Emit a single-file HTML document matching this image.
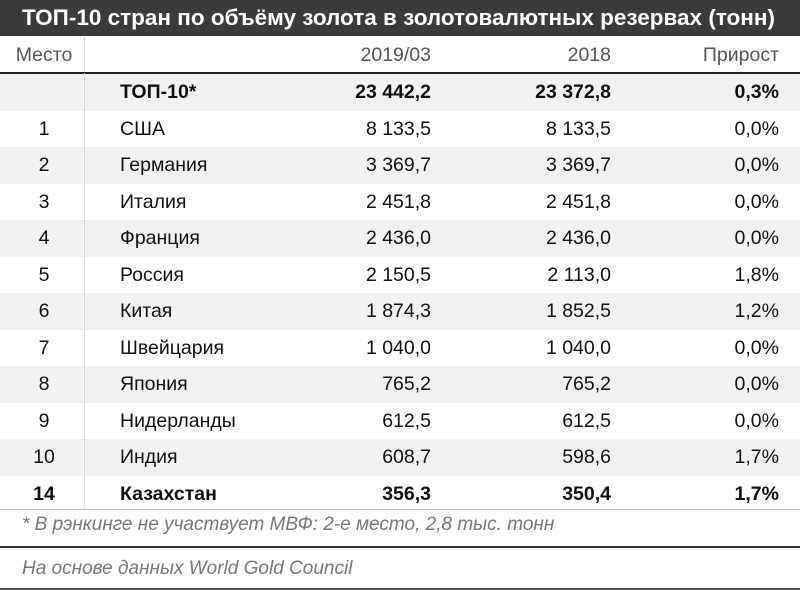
<!DOCTYPE html>
<html><head><meta charset="utf-8"><style>
body{margin:0;width:800px;height:590px;background:#fff;font-family:"Liberation Sans","DejaVu Sans",sans-serif;position:relative;overflow:hidden}
.title{position:absolute;left:0;top:0;width:800px;height:36px;background:#3b3b3b;color:#fff;font-weight:bold;font-size:22.5px;line-height:36px;padding-left:22px;box-sizing:border-box;white-space:nowrap}
.row{position:absolute;left:0;width:800px;height:36.5px;font-size:19.5px;color:#111}
.row div{position:absolute;top:0;line-height:36.5px;white-space:nowrap}
.c1{left:0;width:88px;text-align:center}
.c2{left:120px}
.c3{right:369px}
.c4{right:189px}
.c5{right:21px}
.g{background:#f1f1f1}
.b{font-weight:bold}
.hdr{color:#555}
.vline{position:absolute;left:84px;top:38px;height:470px;border-left:1px dotted #bbb}
.it{position:absolute;left:22px;font-style:italic;color:#777;font-size:19px;white-space:nowrap}
</style></head><body>
<div class="title">ТОП-10 стран по объёму золота в золотовалютных резервах (тонн)</div>
<div class="row hdr" style="top:37px"><div class="c1">Место</div><div class="c3">2019/03</div><div class="c4">2018</div><div class="c5">Прирост</div></div>
<div style="position:absolute;left:0;top:72px;width:800px;height:2px;background:#222"></div>
<div class="row g b" style="top:74px"><div class="c2">ТОП-10*</div><div class="c3">23 442,2</div><div class="c4">23 372,8</div><div class="c5">0,3%</div></div>
<div class="row" style="top:110.5px"><div class="c1">1</div><div class="c2">США</div><div class="c3">8 133,5</div><div class="c4">8 133,5</div><div class="c5">0,0%</div></div>
<div class="row g" style="top:147px"><div class="c1">2</div><div class="c2">Германия</div><div class="c3">3 369,7</div><div class="c4">3 369,7</div><div class="c5">0,0%</div></div>
<div class="row" style="top:183.5px"><div class="c1">3</div><div class="c2">Италия</div><div class="c3">2 451,8</div><div class="c4">2 451,8</div><div class="c5">0,0%</div></div>
<div class="row g" style="top:220px"><div class="c1">4</div><div class="c2">Франция</div><div class="c3">2 436,0</div><div class="c4">2 436,0</div><div class="c5">0,0%</div></div>
<div class="row" style="top:256.5px"><div class="c1">5</div><div class="c2">Россия</div><div class="c3">2 150,5</div><div class="c4">2 113,0</div><div class="c5">1,8%</div></div>
<div class="row g" style="top:293px"><div class="c1">6</div><div class="c2">Китая</div><div class="c3">1 874,3</div><div class="c4">1 852,5</div><div class="c5">1,2%</div></div>
<div class="row" style="top:329.5px"><div class="c1">7</div><div class="c2">Швейцария</div><div class="c3">1 040,0</div><div class="c4">1 040,0</div><div class="c5">0,0%</div></div>
<div class="row g" style="top:366px"><div class="c1">8</div><div class="c2">Япония</div><div class="c3">765,2</div><div class="c4">765,2</div><div class="c5">0,0%</div></div>
<div class="row" style="top:402.5px"><div class="c1">9</div><div class="c2">Нидерланды</div><div class="c3">612,5</div><div class="c4">612,5</div><div class="c5">0,0%</div></div>
<div class="row g" style="top:439px"><div class="c1">10</div><div class="c2">Индия</div><div class="c3">608,7</div><div class="c4">598,6</div><div class="c5">1,7%</div></div>
<div class="row b" style="top:475.5px"><div class="c1">14</div><div class="c2">Казахстан</div><div class="c3">356,3</div><div class="c4">350,4</div><div class="c5">1,7%</div></div>
<div class="vline"></div>
<div style="position:absolute;left:0;top:509px;width:800px;height:1px;background:#bbb"></div>
<div class="it" style="top:514px">* В рэнкинге не участвует МВФ: 2-е место, 2,8 тыс. тонн</div>
<div style="position:absolute;left:0;top:546px;width:800px;height:2px;background:#333"></div>
<div class="it" style="top:558px">На основе данных World Gold Council</div>
<div style="position:absolute;left:0;top:588px;width:800px;height:2px;background:#555"></div>
</body></html>
